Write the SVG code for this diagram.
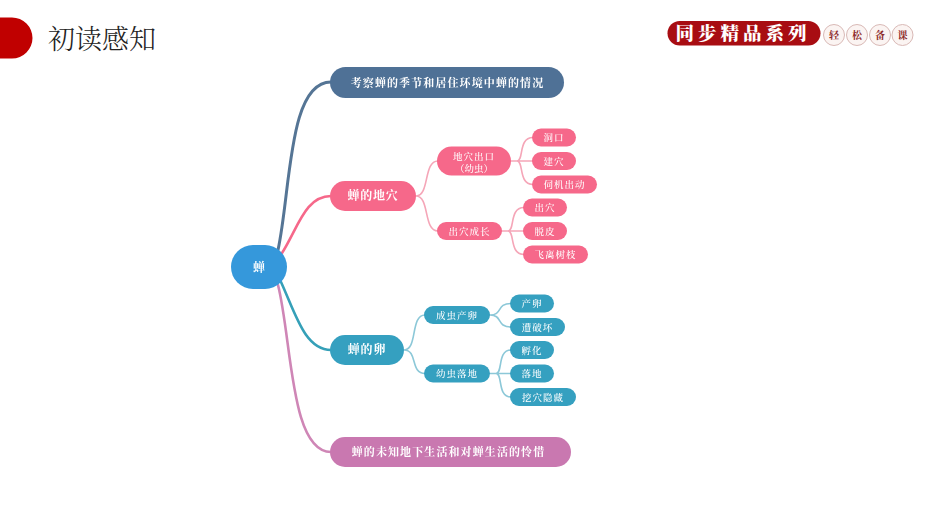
<svg xmlns="http://www.w3.org/2000/svg" width="933" height="525" viewBox="0 0 933 525">
<style>
text{font-family:"Noto Serif CJK SC","Noto Sans CJK SC",serif;text-anchor:middle;fill:#fff}
.m{font-size:11px;font-weight:700}
.l{font-size:9.500px;font-weight:500}
.c{fill:none;stroke-linecap:round}
.b{fill:#4f7196}.p{fill:#f6688a}.t{fill:#36a0c0}.v{fill:#c978b0}
.cb{stroke:#557595;stroke-width:3}
.cp{stroke:#f6688a;stroke-width:2.6}
.cp2{stroke:#f5a6b8;stroke-width:1.6}
.ct{stroke:#36a0b8;stroke-width:2.6}
.ct2{stroke:#8cc8d8;stroke-width:1.6}
.cv{stroke:#cf86b6;stroke-width:2.6}
</style>
<defs><filter id="soft" x="-5%" y="-5%" width="110%" height="110%"><feGaussianBlur stdDeviation="0.6"/></filter></defs>

<g id="header">
<path d="M0 17.500H12A20.500 20.500 0 0 1 12 58.500H0Z" fill="#c00000"/>
<text x="102" y="49" style="font-size:27px;font-weight:300;fill:#222">初读感知</text>
</g>
<g id="series">
<rect x="667.500" y="21" width="153" height="24.500" rx="12.250" fill="#a80d12"/>
<text x="743" y="40" style="font-size:18.500px;font-weight:900;letter-spacing:4px">同步精品系列</text>
<g fill="#fbf4f2" stroke="#d9b9b6" stroke-width="1"><circle cx="834" cy="35" r="10.500"/><circle cx="857" cy="35" r="10.500"/><circle cx="880" cy="35" r="10.500"/><circle cx="902.500" cy="35" r="10.500"/></g>
<g style="font-size:10px;font-weight:700"><text x="834" y="39" style="fill:#8c2a2a">轻</text><text x="857" y="39" style="fill:#8c2a2a">松</text><text x="880" y="39" style="fill:#8c2a2a">备</text><text x="902.500" y="39" style="fill:#8c2a2a">课</text></g>
</g>

<g filter="url(#soft)">
<g id="connectors">
<path class="c cb" d="M278 250C291 190 288 82 331 82"/>
<path class="c cp" d="M282 253C298 228 305 196 331 196"/>
<path class="c ct" d="M281 282C296 315 305 350 331 350"/>
<path class="c cv" d="M278 285C292 340 290 452 331 452"/>
<path class="c cp2" d="M416 196C430 196 423 161 438 161M416 196C430 196 423 231 438 231"/>
<path class="c cp2" d="M511 161H533M517 161C524 161 518 137.500 533 137.500M517 161C524 161 518 184.500 533 184.500"/>
<path class="c cp2" d="M502 231H524M508 231C515 231 509 207.500 524 207.500M508 231C515 231 509 254.500 524 254.500"/>
<path class="c ct2" d="M404 350C418 350 410 315 425 315M404 350C418 350 410 373.500 425 373.500"/>
<path class="c ct2" d="M490 315C503 315 496 303.500 511 303.500M490 315C503 315 496 327 511 327"/>
<path class="c ct2" d="M490 373.500H511M496 373.500C503 373.500 497 350 511 350M496 373.500C503 373.500 497 397 511 397"/>
</g>
<g id="root"><rect x="231" y="245" width="56" height="44" rx="22" fill="#3498db"/><text class="m" x="259" y="271.500" style="font-size:12px">蝉</text></g>
<g id="n1"><rect class="b" x="330" y="67" width="234" height="31" rx="15.500"/><text class="m" x="447.500" y="87" style="letter-spacing:1.100px">考察蝉的季节和居住环境中蝉的情况</text></g>
<g id="n2"><rect class="p" x="330" y="181" width="86" height="30" rx="15"/><text class="m" x="373" y="200" style="font-size:12px;letter-spacing:.8px">蝉的地穴</text></g>
<g id="n21"><rect class="p" x="437" y="146.500" width="74" height="29" rx="14.500"/><text class="l" x="474" y="159.500" style="letter-spacing:1px">地穴出口</text><text class="l" x="474" y="172">（幼虫）</text></g>
<g id="n211"><rect class="p" x="532" y="128.500" width="44" height="18" rx="9"/><text class="l" x="554" y="141" style="letter-spacing:1px">洞口</text></g>
<g id="n212"><rect class="p" x="532" y="152" width="44" height="18" rx="9"/><text class="l" x="554" y="164.500" style="letter-spacing:1px">建穴</text></g>
<g id="n213"><rect class="p" x="532" y="175.500" width="65" height="18" rx="9"/><text class="l" x="564.500" y="188" style="letter-spacing:1px">伺机出动</text></g>
<g id="n22"><rect class="p" x="437" y="222" width="65" height="18" rx="9"/><text class="l" x="469.500" y="234.500" style="letter-spacing:1px">出穴成长</text></g>
<g id="n221"><rect class="p" x="523" y="198.500" width="44" height="18" rx="9"/><text class="l" x="545" y="211" style="letter-spacing:1px">出穴</text></g>
<g id="n222"><rect class="p" x="523" y="222" width="44" height="18" rx="9"/><text class="l" x="545" y="234.500" style="letter-spacing:1px">脱皮</text></g>
<g id="n223"><rect class="p" x="523" y="245.500" width="65" height="18" rx="9"/><text class="l" x="555.500" y="258" style="letter-spacing:1px">飞离树枝</text></g>
<g id="n3"><rect class="t" x="330" y="335" width="74" height="30" rx="15"/><text class="m" x="367" y="354" style="font-size:12px;letter-spacing:.8px">蝉的卵</text></g>
<g id="n31"><rect class="t" x="424" y="306" width="66" height="18" rx="9"/><text class="l" x="457" y="318.500" style="letter-spacing:1px">成虫产卵</text></g>
<g id="n311"><rect class="t" x="510" y="294.500" width="44" height="18" rx="9"/><text class="l" x="532" y="307" style="letter-spacing:1px">产卵</text></g>
<g id="n312"><rect class="t" x="510" y="318" width="55" height="18" rx="9"/><text class="l" x="537.500" y="330.500" style="letter-spacing:1px">遭破坏</text></g>
<g id="n32"><rect class="t" x="424" y="364.500" width="66" height="18" rx="9"/><text class="l" x="457" y="377" style="letter-spacing:1px">幼虫落地</text></g>
<g id="n321"><rect class="t" x="510" y="341" width="44" height="18" rx="9"/><text class="l" x="532" y="353.500" style="letter-spacing:1px">孵化</text></g>
<g id="n322"><rect class="t" x="510" y="364.500" width="44" height="18" rx="9"/><text class="l" x="532" y="377" style="letter-spacing:1px">落地</text></g>
<g id="n323"><rect class="t" x="510" y="388" width="66" height="18" rx="9"/><text class="l" x="543" y="400.500" style="letter-spacing:1px">挖穴隐藏</text></g>
<g id="n4"><rect class="v" x="330" y="437" width="241" height="30" rx="15"/><text class="m" x="448.500" y="456" style="letter-spacing:1.100px">蝉的未知地下生活和对蝉生活的怜惜</text></g>
</g>
</svg>
